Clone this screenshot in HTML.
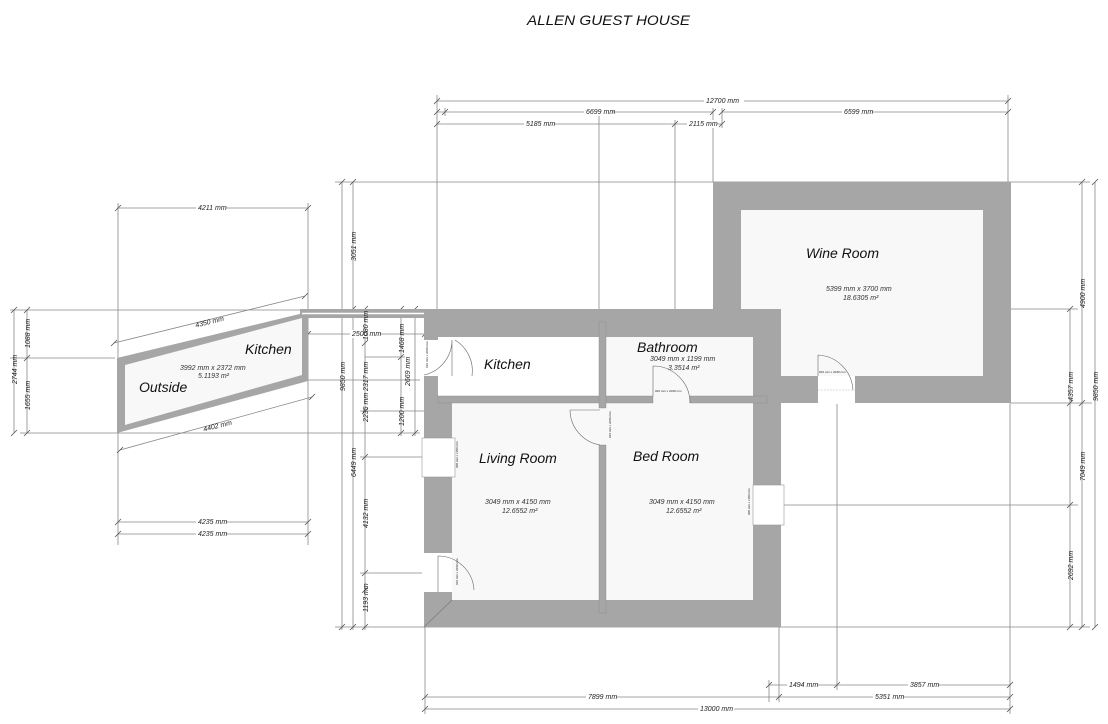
<!DOCTYPE html>
<html><head><meta charset="utf-8"><style>
html,body{margin:0;padding:0;background:#fff}
svg{display:block}
text{font-family:"Liberation Sans",sans-serif;font-style:italic;fill:#222}
.d{font-size:7px;fill:#333}
.r{font-size:14px;fill:#111}
.l{stroke:#888;stroke-width:0.8;fill:none}
.t{stroke:#555;stroke-width:0.8}
</style></head><body>
<svg width="1108" height="724" viewBox="0 0 1108 724" xmlns="http://www.w3.org/2000/svg">
<text x="527" y="25" font-size="14" textLength="163" lengthAdjust="spacingAndGlyphs" style="fill:#111">ALLEN GUEST HOUSE</text>

<g class="l">
<line x1="437" y1="101" x2="1008" y2="101"/>
<line x1="437" y1="112" x2="713" y2="112"/>
<line x1="722" y1="112" x2="1008" y2="112"/>
<line x1="437" y1="124" x2="722" y2="124"/>
<line x1="437" y1="95" x2="437" y2="309"/>
<line x1="1008" y1="95" x2="1008" y2="182"/>
<line x1="599" y1="108" x2="599" y2="322"/>
<line x1="675" y1="120" x2="675" y2="400"/>
<line x1="713" y1="108" x2="713" y2="182"/>
<line x1="722" y1="108" x2="722" y2="128"/>
<line x1="445" y1="108" x2="445" y2="116"/>
<line x1="335" y1="182" x2="1090" y2="182"/>
<line x1="335" y1="627" x2="1090" y2="627"/>
<line x1="10" y1="310" x2="425" y2="310"/>
<line x1="781" y1="309" x2="1078" y2="309"/>
<line x1="1011" y1="403" x2="1092" y2="403"/>
<line x1="783" y1="505" x2="1078" y2="505"/>
<line x1="20" y1="433" x2="420" y2="433"/>
<line x1="10" y1="358" x2="115" y2="358"/>
<line x1="308" y1="380" x2="420" y2="380"/>
<line x1="360" y1="457" x2="422" y2="457"/>
<line x1="360" y1="573" x2="422" y2="573"/>
<line x1="360" y1="411" x2="600" y2="411"/>
<line x1="365" y1="357" x2="405" y2="357"/>
<line x1="308" y1="334" x2="425" y2="334"/>
<line x1="342" y1="182" x2="342" y2="630"/>
<line x1="353" y1="182" x2="353" y2="630"/>
<line x1="365" y1="309" x2="365" y2="630"/>
<line x1="401" y1="309" x2="401" y2="436"/>
<line x1="415" y1="309" x2="415" y2="436"/>
<line x1="1070" y1="309" x2="1070" y2="627"/>
<line x1="1082" y1="182" x2="1082" y2="627"/>
<line x1="1095" y1="182" x2="1095" y2="627"/>
<line x1="769" y1="685" x2="1010" y2="685"/>
<line x1="425" y1="697" x2="1010" y2="697"/>
<line x1="425" y1="709" x2="1010" y2="709"/>
<line x1="425" y1="627" x2="425" y2="714"/>
<line x1="779" y1="627" x2="779" y2="702"/>
<line x1="769" y1="680" x2="769" y2="702"/>
<line x1="837" y1="403" x2="837" y2="690"/>
<line x1="1010" y1="403" x2="1010" y2="714"/>
<line x1="118" y1="203" x2="118" y2="545"/>
<line x1="308" y1="203" x2="308" y2="545"/>
<line x1="118" y1="208" x2="308" y2="208"/>
<line x1="118" y1="522" x2="308" y2="522"/>
<line x1="118" y1="534" x2="308" y2="534"/>
<line x1="114" y1="343" x2="305" y2="296"/>
<line x1="120" y1="450" x2="312" y2="397"/>
<line x1="14" y1="310" x2="14" y2="433"/>
<line x1="27" y1="310" x2="27" y2="433"/>
</g>
<g class="t">
<path d="M434 104l6-6M1005 104l6-6M434 115l6-6M442 115l6-6M710 115l6-6M719 115l6-6M1005 115l6-6M434 127l6-6M672 127l6-6M719 127l6-6
M339 185l6-6M350 185l6-6M339 630l6-6M350 630l6-6M362 630l6-6M362 312l6-6M350 312l6-6M398 312l6-6M412 312l6-6M362 346l6-6M362 414l6-6M398 360l6-6M398 436l6-6M412 436l6-6M362 460l6-6M362 576l6-6M362 593l6-6
M1067 312l6-6M1079 185l6-6M1092 185l6-6M1067 406l6-6M1079 406l6-6M1067 508l6-6M1067 630l6-6M1079 630l6-6M1092 630l6-6
M766 688l6-6M834 688l6-6M1007 688l6-6M422 700l6-6M776 700l6-6M1007 700l6-6M422 712l6-6M1007 712l6-6
M115 211l6-6M305 211l6-6M115 525l6-6M305 525l6-6M115 537l6-6M305 537l6-6M111 346l6-6M302 299l6-6M117 453l6-6M309 400l6-6
M11 313l6-6M11 436l6-6M24 313l6-6M24 361l6-6M24 436l6-6M305 337l6-6M422 337l6-6"/>
</g>

<polygon points="117,358 308,312 308,381 117,433" fill="#a6a6a6"/>
<polygon points="125,365 302,318 302,375 125,425" fill="#f8f8f8"/>
<rect x="300" y="309" width="125" height="9" fill="#a6a6a6"/>
<line x1="302" y1="313.5" x2="425" y2="313.5" stroke="#fff" stroke-width="1.5"/>

<rect x="713" y="182" width="298" height="221" fill="#a6a6a6"/>
<rect x="741" y="210" width="242" height="166" fill="#f8f8f8"/>
<rect x="713" y="320" width="270" height="56" fill="#f8f8f8"/>
<rect x="741" y="376" width="270" height="27" fill="#a6a6a6"/>
<rect x="741" y="376" width="28" height="27" fill="#f8f8f8"/>
<rect x="818" y="376" width="37" height="28" fill="#fff"/>

<rect x="424" y="309" width="357" height="318" fill="#a6a6a6"/>
<rect x="452" y="337" width="301" height="263" fill="#f8f8f8"/>
<rect x="438" y="337" width="161" height="59" fill="#fff"/>
<rect x="424" y="340" width="28" height="36" fill="#fff"/>
<rect x="422" y="438" width="33" height="39" fill="#fff" stroke="#999" stroke-width="0.6"/>
<rect x="424" y="553" width="28" height="39" fill="#fff"/>
<rect x="753" y="485" width="31" height="40" fill="#fff" stroke="#999" stroke-width="0.6"/>
<line x1="424" y1="627" x2="452" y2="600" stroke="#777" stroke-width="0.6"/>
<rect x="438" y="396" width="215" height="7" fill="#a6a6a6" stroke="#888" stroke-width="0.4"/>
<rect x="690" y="396" width="77" height="7" fill="#a6a6a6" stroke="#888" stroke-width="0.4"/>
<rect x="769" y="376" width="12" height="27" fill="#a6a6a6"/>
<rect x="599" y="322" width="7" height="86" fill="#a6a6a6" stroke="#888" stroke-width="0.4"/>
<rect x="599" y="445" width="7" height="168" fill="#a6a6a6" stroke="#888" stroke-width="0.4"/>
<g fill="none" stroke="#666" stroke-width="0.6">
<path d="M452 340 v36 M452 340 A36 36 0 0 1 424 375"/>
<path d="M455 340 A36 36 0 0 1 472 376" />
<path d="M653 366 v30 M653 366 A37 37 0 0 1 690 403"/>
<path d="M570 410 h30 M570 410 A36 36 0 0 0 600 445"/>
<path d="M438 556 v36 M438 556 A36 36 0 0 1 474 590"/>
<path d="M818 355 v21 M818 355 A37 37 0 0 1 853 390"/>
</g>
<g fill="none" stroke="#bbb" stroke-width="0.5" stroke-dasharray="2 1">
<line x1="818" y1="390" x2="855" y2="390"/>
</g>

<text class="r" x="245" y="354">Kitchen</text>
<text class="r" x="139" y="392">Outside</text>
<text class="d" x="180" y="370">3992 mm x 2372 mm</text>
<text class="d" x="198" y="378">5.1193 m²</text>
<text class="r" x="484" y="369">Kitchen</text>
<text class="r" x="637" y="352">Bathroom</text>
<text class="d" x="650" y="361">3049 mm x 1199 mm</text>
<text class="d" x="668" y="370">3.3514 m²</text>
<text class="r" x="479" y="463">Living Room</text>
<text class="d" x="485" y="504">3049 mm x 4150 mm</text>
<text class="d" x="502" y="513">12.6552 m²</text>
<text class="r" x="633" y="461">Bed Room</text>
<text class="d" x="649" y="504">3049 mm x 4150 mm</text>
<text class="d" x="666" y="513">12.6552 m²</text>
<text class="r" x="806" y="258">Wine Room</text>
<text class="d" x="826" y="291">5399 mm x 3700 mm</text>
<text class="d" x="843" y="300">18.6305 m²</text>

<g class="d">
<rect x="704" y="97" width="40" height="8" fill="#fff"/>
<text x="706" y="103">12700 mm</text>
<rect x="584" y="108" width="28" height="8" fill="#fff"/>
<text x="586" y="114">6699 mm</text>
<rect x="842" y="108" width="30" height="8" fill="#fff"/>
<text x="844" y="114">6599 mm</text>
<rect x="524" y="120" width="30" height="8" fill="#fff"/>
<text x="526" y="126">5185 mm</text>
<rect x="687" y="120" width="30" height="8" fill="#fff"/>
<text x="689" y="126">2115 mm</text>
<rect x="196" y="204" width="30" height="8" fill="#fff"/>
<text x="198" y="210">4211 mm</text>
<rect x="196" y="518" width="30" height="8" fill="#fff"/>
<text x="198" y="524">4235 mm</text>
<rect x="196" y="530" width="30" height="8" fill="#fff"/>
<text x="198" y="536">4235 mm</text>
<text x="195" y="324" transform="rotate(-14 210 322)">4350 mm</text>
<text x="203" y="428" transform="rotate(-14 218 426)">4402 mm</text>
<rect x="350" y="330" width="30" height="8" fill="#fff"/>
<text x="352" y="336">2500 mm</text>
<rect x="787" y="681" width="30" height="8" fill="#fff"/>
<text x="789" y="687">1494 mm</text>
<rect x="908" y="681" width="30" height="8" fill="#fff"/>
<text x="910" y="687">3857 mm</text>
<rect x="586" y="693" width="30" height="8" fill="#fff"/>
<text x="588" y="699">7899 mm</text>
<rect x="873" y="693" width="30" height="8" fill="#fff"/>
<text x="875" y="699">5351 mm</text>
<rect x="698" y="705" width="36" height="8" fill="#fff"/>
<text x="700" y="711">13000 mm</text>
</g>
<g class="d">
<text transform="translate(345,377) rotate(-90)" x="-14" y="0">9850 mm</text>
<text transform="translate(356,247) rotate(-90)" x="-14" y="0">3051 mm</text>
<text transform="translate(356,463) rotate(-90)" x="-14" y="0">6449 mm</text>
<text transform="translate(368,326) rotate(-90)" x="-14" y="0">1080 mm</text>
<text transform="translate(368,377) rotate(-90)" x="-14" y="0">2317 mm</text>
<text transform="translate(368,408) rotate(-90)" x="-14" y="0">2235 mm</text>
<text transform="translate(368,514) rotate(-90)" x="-14" y="0">4132 mm</text>
<text transform="translate(368,598) rotate(-90)" x="-14" y="0">1193 mm</text>
<text transform="translate(404,339) rotate(-90)" x="-14" y="0">1468 mm</text>
<text transform="translate(404,412) rotate(-90)" x="-14" y="0">1200 mm</text>
<text transform="translate(410,372) rotate(-90)" x="-14" y="0">2669 mm</text>
<text transform="translate(17,370) rotate(-90)" x="-14" y="0">2744 mm</text>
<text transform="translate(30,334) rotate(-90)" x="-14" y="0">1088 mm</text>
<text transform="translate(30,396) rotate(-90)" x="-14" y="0">1655 mm</text>
<text transform="translate(1085,294) rotate(-90)" x="-14" y="0">4900 mm</text>
<text transform="translate(1098,387) rotate(-90)" x="-14" y="0">9850 mm</text>
<text transform="translate(1073,387) rotate(-90)" x="-14" y="0">4357 mm</text>
<text transform="translate(1085,467) rotate(-90)" x="-14" y="0">7049 mm</text>
<text transform="translate(1073,566) rotate(-90)" x="-14" y="0">2692 mm</text>
</g>
<g style="font-size:3px">
<text transform="translate(428,358) rotate(-90)" x="-10">910 mm x 2040 mm</text>
<text transform="translate(458,458) rotate(-90)" x="-10">900 mm x 1300 mm</text>
<text transform="translate(458,575) rotate(-90)" x="-10">910 mm x 2040 mm</text>
<text transform="translate(611,428) rotate(-90)" x="-10">910 mm x 2040 mm</text>
<text transform="translate(750,505) rotate(-90)" x="-10">900 mm x 1300 mm</text>
<text x="655" y="392">910 mm x 2040 mm</text>
<text x="819" y="373">910 mm x 2040 mm</text>
</g>
</svg>
</body></html>
